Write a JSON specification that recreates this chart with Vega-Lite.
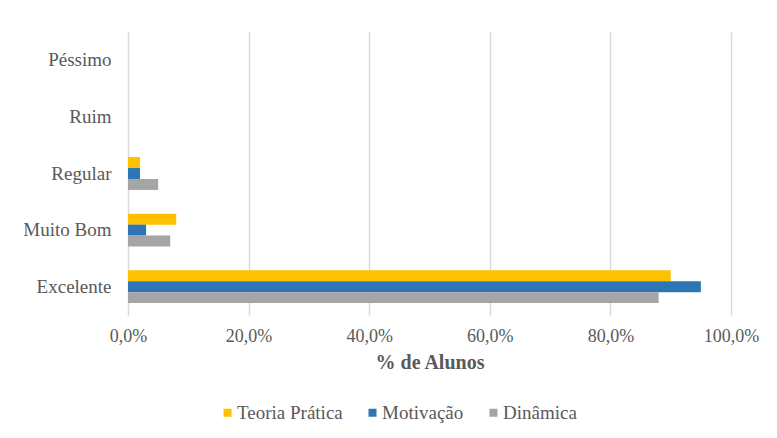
{
  "$schema": "https://vega.github.io/schema/vega-lite/v6.json",
  "autosize": "none",
  "width": 603,
  "height": 283,
  "padding": {"left": 128, "top": 32, "right": 46, "bottom": 123},
  "background": "white",
  "data": {
    "values": [
      {"categoria": "Excelente", "serie": "Teoria Prática", "valor": 0.90},
      {"categoria": "Excelente", "serie": "Motivação", "valor": 0.95},
      {"categoria": "Excelente", "serie": "Dinâmica", "valor": 0.88},
      {"categoria": "Muito Bom", "serie": "Teoria Prática", "valor": 0.08},
      {"categoria": "Muito Bom", "serie": "Motivação", "valor": 0.03},
      {"categoria": "Muito Bom", "serie": "Dinâmica", "valor": 0.07},
      {"categoria": "Regular", "serie": "Teoria Prática", "valor": 0.02},
      {"categoria": "Regular", "serie": "Motivação", "valor": 0.02},
      {"categoria": "Regular", "serie": "Dinâmica", "valor": 0.05},
      {"categoria": "Ruim", "serie": "Teoria Prática", "valor": 0},
      {"categoria": "Ruim", "serie": "Motivação", "valor": 0},
      {"categoria": "Ruim", "serie": "Dinâmica", "valor": 0},
      {"categoria": "Péssimo", "serie": "Teoria Prática", "valor": 0},
      {"categoria": "Péssimo", "serie": "Motivação", "valor": 0},
      {"categoria": "Péssimo", "serie": "Dinâmica", "valor": 0}
    ]
  },
  "mark": {"type": "bar"},
  "encoding": {
    "y": {
      "field": "categoria",
      "type": "nominal",
      "sort": ["Péssimo", "Ruim", "Regular", "Muito Bom", "Excelente"],
      "scale": {"paddingInner": 0.42, "paddingOuter": 0.21},
      "axis": {
        "title": null,
        "domain": false,
        "ticks": false,
        "labelPadding": 17,
        "labelFont": "Liberation Serif",
        "labelFontSize": 19,
        "labelColor": "#595959"
      }
    },
    "yOffset": {
      "field": "serie",
      "type": "nominal",
      "sort": ["Teoria Prática", "Motivação", "Dinâmica"],
      "scale": {"paddingInner": 0, "paddingOuter": 0}
    },
    "x": {
      "field": "valor",
      "type": "quantitative",
      "scale": {"domain": [0, 1], "nice": false},
      "axis": {
        "title": "% de Alunos",
        "titleFont": "Liberation Serif",
        "titleFontSize": 20,
        "titleFontWeight": "bold",
        "titleColor": "#595959",
        "titlePadding": 7,
        "values": [0, 0.2, 0.4, 0.6, 0.8, 1],
        "labelExpr": "replace(format(datum.value, '.1%'), '.', ',')",
        "labelFont": "Liberation Serif",
        "labelFontSize": 18,
        "labelFlush": false,
        "labelColor": "#595959",
        "labelPadding": 12,
        "domain": false,
        "ticks": false,
        "grid": true,
        "gridColor": "#d9d9d9",
        "gridWidth": 1.5
      }
    },
    "color": {
      "field": "serie",
      "type": "nominal",
      "sort": ["Teoria Prática", "Motivação", "Dinâmica"],
      "scale": {
        "domain": ["Teoria Prática", "Motivação", "Dinâmica"],
        "range": ["#FFC000", "#2E75B6", "#A5A5A5"]
      },
      "legend": {
        "title": null,
        "orient": "none",
        "direction": "horizontal",
        "legendX": 90,
        "legendY": 371,
        "symbolType": "square",
        "symbolSize": 64,
        "symbolStrokeWidth": 0,
        "labelFont": "Liberation Serif",
        "labelFontSize": 19,
        "labelColor": "#595959",
        "columnPadding": 20,
        "labelOffset": 0,
        "labelLimit": 300
      }
    }
  },
  "config": {
    "view": {"stroke": null},
    "font": "Liberation Serif"
  }
}
